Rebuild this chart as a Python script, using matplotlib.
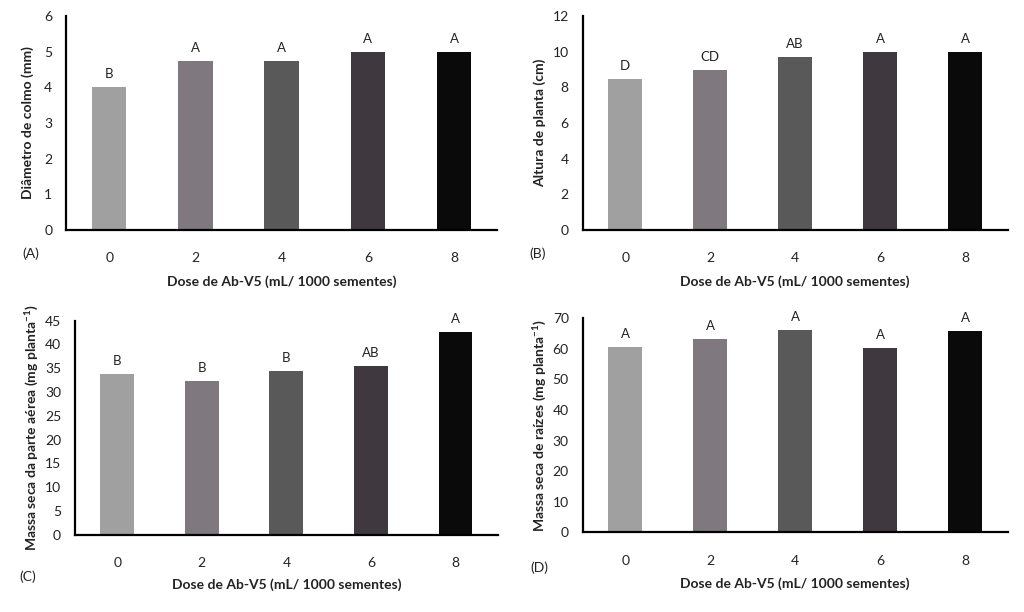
import matplotlib
matplotlib.use("Agg")
import matplotlib.pyplot as plt

plt.rcParams['font.family'] = ['Lato', 'DejaVu Sans']

doses = ['0', '2', '4', '6', '8']
bar_colors = ['#A0A0A0', '#7F787F', '#595959', '#3F383F', '#0A0A0A']

diam_colmo = [4.0, 4.73, 4.73, 5.0, 5.0]
diam_letters = ['B', 'A', 'A', 'A', 'A']

altura = [8.45, 8.97, 9.68, 10.0, 10.0]
altura_letters = ['D', 'CD', 'AB', 'A', 'A']

massa_aerea = [33.8, 32.4, 34.4, 35.4, 42.6]
aerea_letters = ['B', 'B', 'B', 'AB', 'A']

massa_raizes = [60.7, 63.2, 66.1, 60.2, 65.8]
raizes_letters = ['A', 'A', 'A', 'A', 'A']

xlabel = 'Dose de Ab-V5 (mL/ 1000 sementes)'

panels = [
    dict(rect=[0.0645, 0.624, 0.421, 0.350], vals=diam_colmo, letters=diam_letters,
         ylim=6, yticks=[0, 1, 2, 3, 4, 5, 6],
         ylabel='Diâmetro de colmo (mm)', tag='(A)', tagpos=(0.030, 0.586),
         xlab_y=0.539, ylab_x=0.027),
    dict(rect=[0.569, 0.624, 0.415, 0.350], vals=altura, letters=altura_letters,
         ylim=12, yticks=[0, 2, 4, 6, 8, 10, 12],
         ylabel='Altura de planta (cm)', tag='(B)', tagpos=(0.525, 0.586),
         xlab_y=0.539, ylab_x=0.527),
    dict(rect=[0.0732, 0.126, 0.413, 0.350], vals=massa_aerea, letters=aerea_letters,
         ylim=45, yticks=[0, 5, 10, 15, 20, 25, 30, 35, 40, 45],
         ylabel='Massa seca da parte aérea (mg planta$^{\\mathregular{-1}}$)', tag='(C)', tagpos=(0.027, 0.057),
         xlab_y=0.044, ylab_x=0.030),
    dict(rect=[0.569, 0.130, 0.415, 0.350], vals=massa_raizes, letters=raizes_letters,
         ylim=70, yticks=[0, 10, 20, 30, 40, 50, 60, 70],
         ylabel='Massa seca de raízes (mg planta$^{\\mathregular{-1}}$)', tag='(D)', tagpos=(0.527, 0.073),
         xlab_y=0.047, ylab_x=0.526),
]

fig = plt.figure(figsize=(10.24, 6.12), dpi=100)
fig.patch.set_facecolor('white')

for p in panels:
    ax = fig.add_axes(p['rect'])
    x = list(range(len(doses)))
    ax.bar(x, p['vals'], width=0.4, color=bar_colors, zorder=2)
    for xi, v, lt in zip(x, p['vals'], p['letters']):
        ax.annotate(lt, (xi, v), xytext=(0, 5), textcoords='offset points',
                    ha='center', va='bottom', fontsize=9.5, color='#222222')
    ax.set_xlim(-0.5, 4.5)
    ax.set_ylim(0, p['ylim'])
    ax.set_yticks(p['yticks'])
    ax.set_xticks(x)
    ax.set_xticklabels(doses)
    ax.tick_params(axis='both', length=0, labelsize=10, colors='#222222')
    ax.tick_params(axis='x', pad=16)
    ax.tick_params(axis='y', pad=10)
    for s in ['top', 'right']:
        ax.spines[s].set_visible(False)
    for s in ['left', 'bottom']:
        ax.spines[s].set_linewidth(1.6)
        ax.spines[s].set_color('black')
    cx = p['rect'][0] + p['rect'][2] / 2
    fig.text(cx, p['xlab_y'], xlabel, ha='center', va='center', fontsize=10,
             fontweight='bold', color='#222222')
    fig.text(p['ylab_x'], p['rect'][1] + p['rect'][3] * 0.5, p['ylabel'], rotation=90,
             ha='center', va='center', fontsize=10, fontweight='bold', color='#222222')
    fig.text(p['tagpos'][0], p['tagpos'][1], p['tag'], ha='center', va='center',
             fontsize=10, color='#222222')

fig.savefig('out.png', dpi=100, facecolor='white')
